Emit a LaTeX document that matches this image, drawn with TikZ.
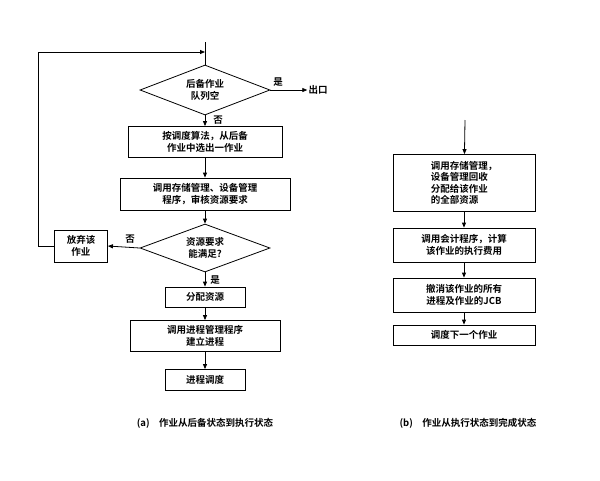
\documentclass[tikz,border=0pt]{standalone}
\usepackage{fontspec}
\newfontfamily\cjk{Noto Sans CJK SC}[BoldFont={Noto Sans CJK SC Bold}]
\usetikzlibrary{shapes.geometric,arrows.meta}
\begin{document}
\begin{tikzpicture}[x=1pt,y=-1pt,font=\cjk\bfseries\fontsize{9.5}{11.5}\selectfont,
  box/.style={draw,thick,align=center,inner sep=2pt},
  dia/.style={draw,thick,diamond,aspect=2.6,align=center,inner sep=1pt},
  arr/.style={-{Triangle[length=5pt,width=4pt]}},
  lab/.style={inner sep=1pt}]
\useasboundingbox (0,0) rectangle (600,480);
% left part
\coordinate (top) at (205,42);
\coordinate (join) at (205,52);
\node[dia,minimum width=130,minimum height=50] (q) at (205,90) {后备作业\\队列空};
\node[lab] (out) at (318,90) {出口};
\node[lab] at (278,82) {是};
\node[lab] at (218,120) {否};
\node[box,minimum width=154,minimum height=31] (b1) at (205,142) {按调度算法，从后备\\作业中选出一作业};
\node[box,minimum width=170,minimum height=32] (b2) at (205,194) {调用存储管理、设备管理\\程序，审核资源要求};
\node[dia,minimum width=130,minimum height=48] (r) at (205,248) {资源要求\\能满足?};
\node[box,minimum width=53,minimum height=32] (give) at (81,246) {放弃该\\作业};
\node[lab] at (130,239) {否};
\node[lab] at (215,280) {是};
\node[box,minimum width=80,minimum height=20] (b3) at (205,297) {分配资源};
\node[box,minimum width=150,minimum height=31] (b4) at (205,336) {调用进程管理程序\\建立进程};
\node[box,minimum width=80,minimum height=21] (b5) at (205,380) {进程调度};
\coordinate (lc) at (38,246);
\coordinate (lt) at (38,52);
\draw[thick] (top) -- (q.north);
\draw[thick,arr] (q.east) -- (out.west);
\draw[thick,arr] (q.south) -- (b1);
\draw[thick,arr] (b1) -- (b2);
\draw[thick,arr] (b2) -- (r.north);
\draw[thick,arr] (r.west) -- (give.east);
\draw[thick,arr] (give.west) -- (lc) -- (lt) -- (join);
\draw[thick,arr] (r.south) -- (b3);
\draw[thick,arr] (b3) -- (b4);
\draw[thick,arr] (b4) -- (b5);
\node (capa) at (205,423) {(a)\quad 作业从后备状态到执行状态};
% right part
\coordinate (rtop) at (465,120);
\node[box,minimum width=142,minimum height=57,align=left] (c1) at (464,183) {调用存储管理，\\设备管理回收\\分配给该作业\\的全部资源};
\node[box,minimum width=142,minimum height=34] (c2) at (464,245) {调用会计程序，计算\\该作业的执行费用};
\node[box,minimum width=142,minimum height=34] (c3) at (464,295) {撤消该作业的所有\\进程及作业的JCB};
\node[box,minimum width=142,minimum height=20] (c4) at (464,335) {调度下一个作业};
\draw[thick,arr] (rtop) -- (c1);
\draw[thick,arr] (c1) -- (c2);
\draw[thick,arr] (c2) -- (c3);
\draw[thick,arr] (c3) -- (c4);
\node (capb) at (468,423) {(b)\quad 作业从执行状态到完成状态};
\end{tikzpicture}
\end{document}
